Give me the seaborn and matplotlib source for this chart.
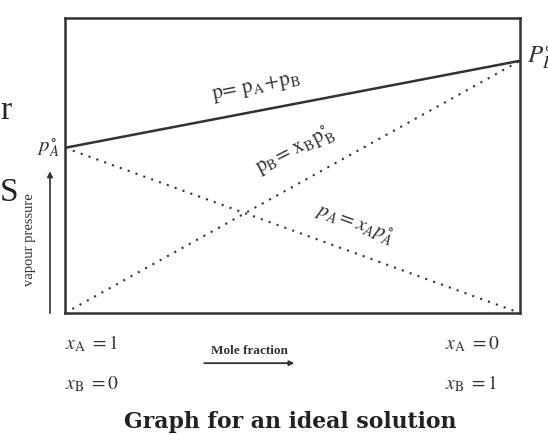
import numpy as np
import pandas as pd
import seaborn as sns
import matplotlib
matplotlib.use("Agg")
import matplotlib.pyplot as plt

# mole fraction of B along the x axis, vapour pressures (relative units)
x_b = [0.0, 1.0]
p_a = [0.56, 0.0]      # p_A = x_A p_A°
p_b = [0.0, 0.855]     # p_B = x_B p_B°
p_total = [a + b for a, b in zip(p_a, p_b)]

df = pd.DataFrame({"xB": x_b, "pA": p_a, "pB": p_b, "p": p_total})

sns.set_style("white")
plt.rcParams["font.family"] = ["Liberation Serif", "DejaVu Serif"]
plt.rcParams["mathtext.fontset"] = "stix"

ink = "#333333"
fig = plt.figure(figsize=(5.48, 4.34), dpi=100)
ax = fig.add_axes([0.1186, 0.2788, 0.8303, 0.6797])

sns.lineplot(data=df, x="xB", y="p", ax=ax, color=ink, lw=1.8)
sns.lineplot(data=df, x="xB", y="pA", ax=ax, color=ink, lw=1.5, ls=(0, (1, 3)))
sns.lineplot(data=df, x="xB", y="pB", ax=ax, color=ink, lw=1.5, ls=(0, (1, 3)))

ax.set_xlim(0, 1)
ax.set_ylim(0, 1)
ax.set_xticks([])
ax.set_yticks([])
ax.set_xlabel("")
ax.set_ylabel("")
for s in ax.spines.values():
    s.set_color(ink)
    s.set_linewidth(1.8)


def slope_angle(col):
    p0 = ax.transData.transform((x_b[0], df[col].iloc[0]))
    p1 = ax.transData.transform((x_b[1], df[col].iloc[1]))
    return np.degrees(np.arctan2(p1[1] - p0[1], p1[0] - p0[0]))


ax.text(0.42, 0.765, r"$\mathrm{p\!=\,p_A\!+\!p_B}$", rotation=slope_angle("p"),
        fontsize=15, color=ink, ha="center", va="center", rotation_mode="anchor")
ax.text(0.505, 0.55, r"$\mathrm{p_B\!=\,x_Bp_B^{\circ}}$", rotation=slope_angle("pB") - 2,
        fontsize=15, color=ink, ha="center", va="center", rotation_mode="anchor")
ax.text(0.637, 0.30, r"$p_A = x_Ap_A^{\circ}$", rotation=slope_angle("pA"),
        fontsize=15, color=ink, ha="center", va="center", rotation_mode="anchor")

# end-point labels
ax.text(-0.012, p_a[0], r"$p_A^{\circ}$", fontsize=15, color=ink, ha="right", va="center")
ax.text(1.015, p_b[1] + 0.01, r"$P_B^{\circ}$", fontsize=18, color=ink, ha="left", va="center")

# vapour pressure axis label with arrow
ax.annotate("", xy=(-0.033, 0.49), xytext=(-0.033, -0.01), xycoords="axes fraction",
            arrowprops=dict(arrowstyle="-|>", color=ink, lw=1.2, mutation_scale=8))
ax.text(-0.077, 0.25, "vapour pressure", rotation=90, fontsize=10.5, color=ink,
        ha="center", va="center", transform=ax.transAxes)

# mole fraction label below axis
ax.text(0.405, -0.13, "Mole fraction", fontsize=9.5, fontweight="bold", color=ink,
        ha="center", va="center", transform=ax.transAxes)
ax.annotate("", xy=(0.51, -0.17), xytext=(0.30, -0.17), xycoords="axes fraction",
            arrowprops=dict(arrowstyle="-|>", color=ink, lw=1.3, mutation_scale=7))

ax.text(0.0, -0.105, r"$x_{\rm A}\ =1$", fontsize=14, color=ink, ha="left", va="center",
        transform=ax.transAxes)
ax.text(0.0, -0.24, r"$x_{\rm B}\ =0$", fontsize=14, color=ink, ha="left", va="center",
        transform=ax.transAxes)
ax.text(0.835, -0.105, r"$x_{\rm A}\ =0$", fontsize=14, color=ink, ha="left", va="center",
        transform=ax.transAxes)
ax.text(0.835, -0.24, r"$x_{\rm B}\ =1$", fontsize=14, color=ink, ha="left", va="center",
        transform=ax.transAxes)

fig.text(0.53, 0.028, "Graph for an ideal solution", fontsize=15.8, fontweight="bold",
         family="DejaVu Serif", color="#222222", ha="center", va="center")

# page fragments at the left edge
fig.text(0.0, 0.745, "r", fontsize=24, color="#222222", ha="left", va="center")
fig.text(0.0, 0.555, "S", fontsize=24, color="#222222", ha="left", va="center")

fig.savefig("out.png", dpi=100)
